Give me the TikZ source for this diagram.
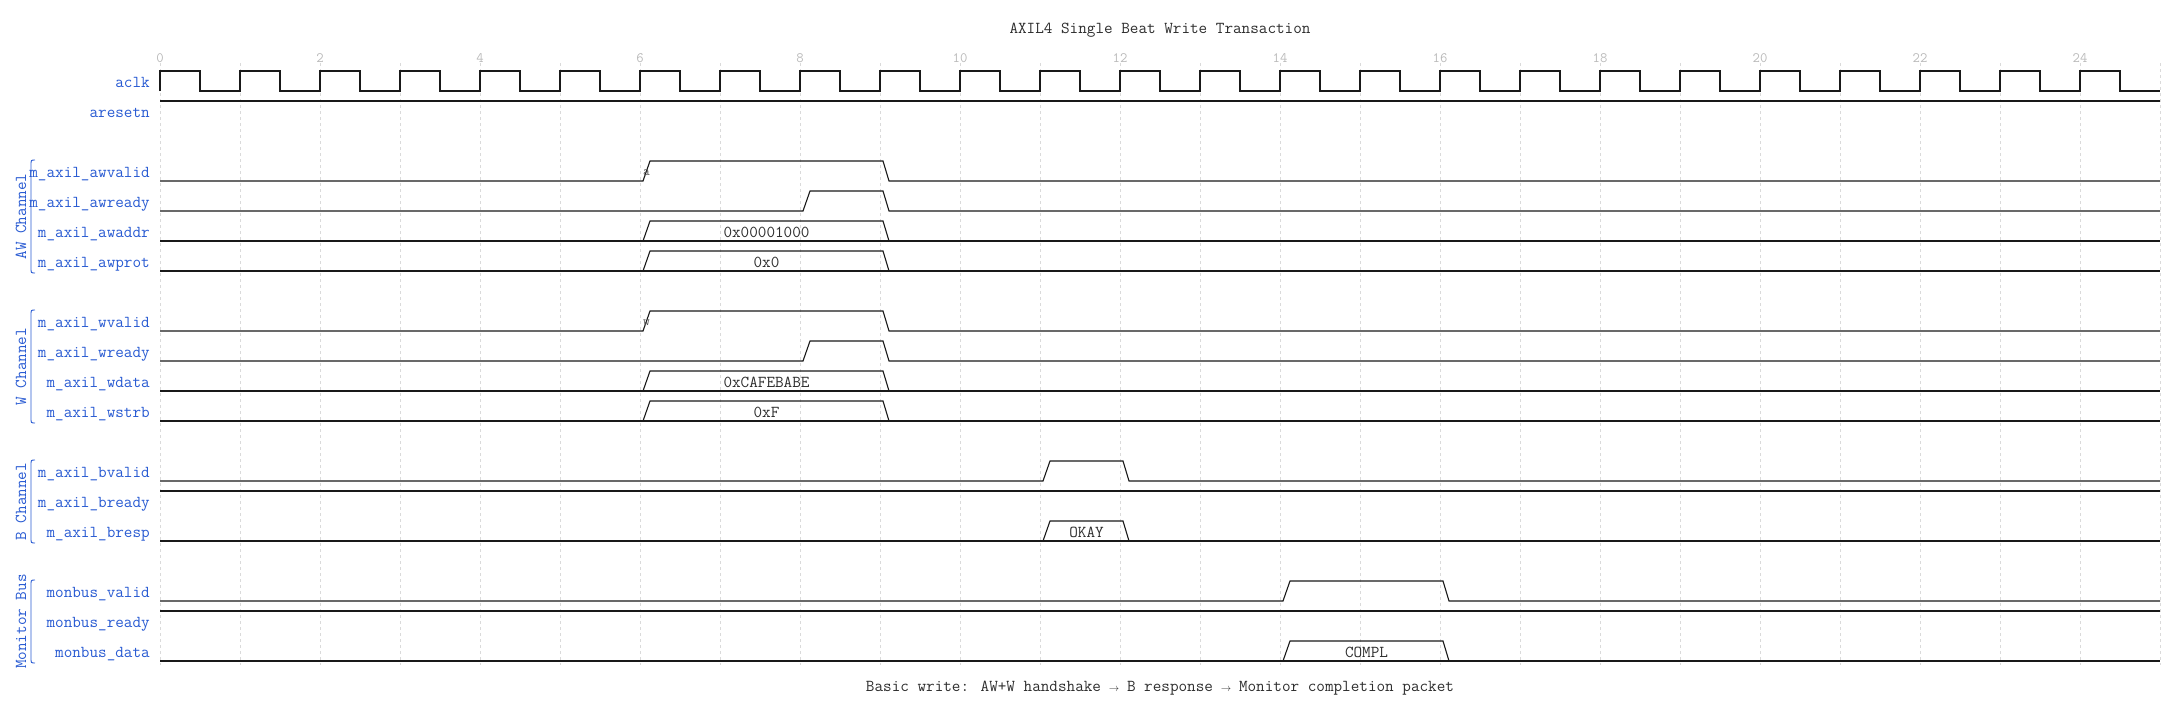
\documentclass[tikz,border=0pt]{standalone}
\usetikzlibrary{positioning}
\definecolor{lblblue}{RGB}{40,90,210}
\definecolor{gridgray}{RGB}{218,218,218}
\definecolor{tickgray}{RGB}{185,185,185}
\definecolor{wavec}{RGB}{25,25,25}
\definecolor{txtc}{RGB}{45,45,45}
\definecolor{edgec}{RGB}{80,80,80}
\newcommand{\wavefont}{\ttfamily\fontsize{16.7}{18}\selectfont}
\newcommand{\arr}{\makebox[0.525em]{\scalebox{0.6}{$\rightarrow$}}}
% pulse: row top, rise time, fall time
\newcommand{\pulsewave}[3]{%
  \draw[wave] (160,#1+20) -- ({160+80*#2+3},#1+20) -- ({160+80*#2+10},#1)
    -- ({160+80*#3+3},#1) -- ({160+80*#3+9},#1+20) -- (2160,#1+20);}
% bus value: name, row top, start, end, text
\newcommand{\buswave}[5]{%
  \draw[wave] (160,#2+20) -- (2160,#2+20);
  \draw[wave] ({160+80*#3+3},#2+20) -- ({160+80*#3+10},#2)
    -- ({160+80*#4+3},#2) -- ({160+80*#4+9},#2+20);
  \node[val] (#1) at ({160+40*(#3+#4)+6.5},#2+16) {#5};}
% group bracket: top, bottom, text, name
\newcommand{\grpbrace}[4]{%
  \draw[grp] (35,#1) .. controls (31,#1) .. (31,#1+5) -- (31,#2-5)
    .. controls (31,#2) .. (35,#2);
  \node[grplbl] (#4) at (21,{(#1+#2)/2}) {#3};}
\begin{document}
\begin{tikzpicture}[x=1pt, y=-1pt,
    wave/.style={draw=wavec, line width=1.1pt, line join=miter},
    gridline/.style={draw=gridgray, line width=0.8pt, dash pattern=on 3pt off 3pt},
    lbl/.style={anchor=base east, inner sep=0pt, text=lblblue, font=\wavefont},
    grp/.style={draw=lblblue, line width=0.9pt},
    grplbl/.style={rotate=90, inner sep=0pt, text=lblblue, font=\wavefont},
    tick/.style={anchor=base, inner sep=0pt, text=tickgray, font=\ttfamily\fontsize{14.3}{16}\selectfont},
    val/.style={anchor=base, inner sep=0pt, text=txtc, font=\wavefont},
    titl/.style={anchor=base, inner sep=0pt, text=txtc, font=\wavefont},
    edgelbl/.style={anchor=base, inner sep=0pt, text=edgec, font=\ttfamily\fontsize{13}{14}\selectfont}]
    \useasboundingbox (0,0) rectangle (2180,712);
    \node[titl] (title) at (1160,34) {AXIL4 Single Beat Write Transaction};

    % grid and time axis
    \foreach \t in {0,...,25}
        \draw[gridline] ({160+80*\t},63) -- ({160+80*\t},665);
    \foreach \t in {0,2,...,24}
        \node[tick] (t\t) at ({160+80*\t},62) {\t};

    % signal names
    \foreach \r/\n/\s in {0/aclk/aclk, 1/aresetn/aresetn,
        3/awvalid/m\_axil\_awvalid, 4/awready/m\_axil\_awready,
        5/awaddr/m\_axil\_awaddr, 6/awprot/m\_axil\_awprot,
        8/wvalid/m\_axil\_wvalid, 9/wready/m\_axil\_wready,
        10/wdata/m\_axil\_wdata, 11/wstrb/m\_axil\_wstrb,
        13/bvalid/m\_axil\_bvalid, 14/bready/m\_axil\_bready,
        15/bresp/m\_axil\_bresp,
        17/mvalid/monbus\_valid, 18/mready/monbus\_ready,
        19/mdata/monbus\_data}
        \node[lbl] (l-\n) at (150,{71+30*\r+16}) {\s};

    % groups
    \grpbrace{160}{273}{AW Channel}{g-aw}
    \grpbrace{310}{423}{W Channel}{g-w}
    \grpbrace{460}{543}{B Channel}{g-b}
    \grpbrace{580}{663}{Monitor Bus}{g-mon}

    % clock and reset
    \draw[wave] (160,91) \foreach \t in {0,...,24} {
        -- ({160+80*\t},71) -- ({160+80*\t+40},71)
        -- ({160+80*\t+40},91) -- ({160+80*\t+80},91)};
    \draw[wave] (160,101) -- (2160,101);

    % AW channel
    \pulsewave{161}{6}{9}
    \node[edgelbl] (n-a) at (646.5,175) {a};
    \pulsewave{191}{8}{9}
    \buswave{v-awaddr}{221}{6}{9}{0x00001000}
    \buswave{v-awprot}{251}{6}{9}{0x0}

    % W channel
    \pulsewave{311}{6}{9}
    \node[edgelbl] (n-w) at (646.5,325) {w};
    \pulsewave{341}{8}{9}
    \buswave{v-wdata}{371}{6}{9}{0xCAFEBABE}
    \buswave{v-wstrb}{401}{6}{9}{0xF}

    % B channel
    \pulsewave{461}{11}{12}
    \draw[wave] (160,491) -- (2160,491);
    \buswave{v-bresp}{521}{11}{12}{OKAY}

    % monitor bus
    \pulsewave{581}{14}{16}
    \draw[wave] (160,611) -- (2160,611);
    \buswave{v-mdata}{641}{14}{16}{COMPL}

    \node[titl] (foot) at (1160,691) {Basic write: AW+W handshake \arr{} B response \arr{} Monitor completion packet};
\end{tikzpicture}
\end{document}
